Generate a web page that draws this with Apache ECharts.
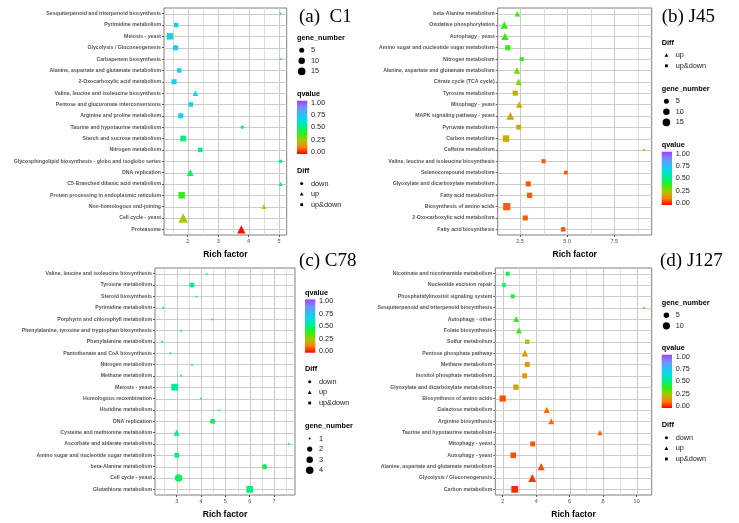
<!DOCTYPE html>
<html lang="en">
<head>
<meta charset="UTF-8">
<title>KEGG enrichment</title>
<script src="https://cdn.jsdelivr.net/npm/echarts@6/dist/echarts.min.js"></script>
<style>html,body{margin:0;padding:0;background:#fff;}</style>
</head>
<body>
<div id="main" style="width:739px;height:523px;"></div>
<script type="text/javascript">

// (a) C1 -- rows listed top to bottom
var catsA = ['Sesquiterpenoid and triterpenoid biosynthesis','Pyrimidine metabolism','Meiosis - yeast','Glycolysis / Gluconeogenesis','Carbapenem biosynthesis','Alanine, aspartate and glutamate metabolism','2-Oxocarboxylic acid metabolism','Valine, leucine and isoleucine biosynthesis','Pentose and glucuronate interconversions','Arginine and proline metabolism','Taurine and hypotaurine metabolism','Starch and sucrose metabolism','Nitrogen metabolism','Glycosphingolipid biosynthesis - globo and isoglobo series','DNA replication','C5-Branched dibasic acid metabolism','Protein processing in endoplasmic reticulum','Non-homologous end-joining','Cell cycle - yeast','Proteasome'];
var richA = [5.05,1.62,1.42,1.60,5.05,1.72,1.55,2.25,2.10,1.77,3.79,1.85,2.41,5.05,2.08,5.05,1.80,4.50,1.85,3.76];
var geneA = [1,5,13,7,1,5,7,4,5,7,2,10,5,2,7,2,13,3,17,12];
var qA = [0.70,0.69,0.67,0.69,0.70,0.68,0.68,0.65,0.66,0.67,0.52,0.50,0.50,0.53,0.45,0.50,0.38,0.25,0.25,0.01];
var diffA = ['up&down','up&down','up&down','down','up&down','up&down','up&down','up','up&down','up&down','down','up&down','up&down','up&down','up','up','up&down','up','up','up'];

// (b) J45
var catsB = ['beta-Alanine metabolism','Oxidative phosphorylation','Autophagy - yeast','Amino sugar and nucleotide sugar metabolism','Nitrogen metabolism','Alanine, aspartate and glutamate metabolism','Citrate cycle (TCA cycle)','Tyrosine metabolism','Mitophagy - yeast','MAPK signaling pathway - yeast','Pyruvate metabolism','Carbon metabolism','Caffeine metabolism','Valine, leucine and isoleucine biosynthesis','Selenocompound metabolism','Glyoxylate and dicarboxylate metabolism','Fatty acid metabolism','Biosynthesis of amino acids','2-Oxocarboxylic acid metabolism','Fatty acid biosynthesis'];
var richB = [2.36,1.67,1.71,1.85,2.59,2.34,2.43,2.25,2.46,1.99,2.43,1.76,9.06,3.75,4.93,2.94,3.01,1.80,2.78,4.79];
var geneB = [4,9,9,7,4,6,6,7,6,10,6,13,1,4,3,7,8,17,7,5];
var qB = [0.36,0.37,0.37,0.37,0.37,0.30,0.30,0.20,0.20,0.20,0.20,0.20,0.16,0.09,0.09,0.09,0.09,0.09,0.09,0.09];
var diffB = ['up','up','up','up&down','up&down','up','up','up&down','up','up','up&down','up&down','up&down','up&down','up&down','up&down','up&down','up&down','up&down','up&down'];

// (c) C78
var catsC = ['Valine, leucine and isoleucine biosynthesis','Tyrosine metabolism','Steroid biosynthesis','Pyrimidine metabolism','Porphyrin and chlorophyll metabolism','Phenylalanine, tyrosine and tryptophan biosynthesis','Phenylalanine metabolism','Pantothenate and CoA biosynthesis','Nitrogen metabolism','Methane metabolism','Meiosis - yeast','Homologous recombination','Histidine metabolism','DNA replication','Cysteine and methionine metabolism','Ascorbate and aldarate metabolism','Amino sugar and nucleotide sugar metabolism','beta-Alanine metabolism','Cell cycle - yeast','Glutathione metabolism'];
var richC = [4.23,3.63,3.81,2.45,4.46,3.18,2.40,2.74,3.63,3.18,2.92,4.00,4.75,4.48,3.00,7.60,3.00,6.61,3.08,6.00];
var geneC = [1,2,1,1,1,1,1,1,1,1,4,1,1,2,2,1,2,2,4,4];
var qC = [0.47,0.52,0.50,0.50,0.50,0.52,0.50,0.50,0.50,0.50,0.52,0.50,0.50,0.46,0.52,0.50,0.50,0.45,0.47,0.50];
var diffC = ['up','down','up','down','up','up','down','down','up','down','up&down','down','up','down','up','down','up&down','down','down','up&down'];

// (d) J127
var catsD = ['Nicotinate and nicotinamide metabolism','Nucleotide excision repair','Phosphatidylinositol signaling system','Sesquiterpenoid and triterpenoid biosynthesis','Autophagy - other','Folate biosynthesis','Sulfur metabolism','Pentose phosphate pathway','Methane metabolism','Inositol phosphate metabolism','Glyoxylate and dicarboxylate metabolism','Biosynthesis of amino acids','Galactose metabolism','Arginine biosynthesis','Taurine and hypotaurine metabolism','Mitophagy - yeast','Autophagy - yeast','Alanine, aspartate and glutamate metabolism','Glycolysis / Gluconeogenesis','Carbon metabolism'];
var richD = [2.30,2.08,2.60,10.43,2.81,2.97,3.47,3.33,3.47,3.31,2.79,2.00,4.63,4.90,7.81,3.79,2.63,4.30,3.77,2.72];
var geneD = [3,3,3,1,4,4,4,5,5,5,6,9,4,4,3,5,7,6,8,11];
var qD = [0.46,0.48,0.42,0.38,0.38,0.37,0.25,0.17,0.16,0.16,0.19,0.08,0.10,0.10,0.10,0.09,0.08,0.07,0.05,0.04];
var diffD = ['up&down','down','up&down','up&down','up','up','up&down','up','up&down','up&down','up&down','up&down','up','up','up','up&down','up&down','up','up','up&down'];

// axis ticks and legend keys
var ticksA = [2,3,4,5], ticksB = [2.5,5,7.5], ticksC = [3,4,5,6,7], ticksD = [2,4,6,8,10];
var geneKeysA = [5,10,15], geneKeysB = [5,10,15], geneKeysC = [1,2,3,4], geneKeysD = [5,10];
var qTickLabels = ['1.00','0.75','0.50','0.25','0.00'];
var qColors = ['#ff0000','#ff8000','#a8c800','#33ee11','#00f080','#00e0d8','#33bbff','#7a8cff','#a040ff'];

var shapeOf = {'down':'circle','up':'triangle','up&down':'rect'};
var shapeScale = {circle:1, triangle:1.2, rect:0.9};
var SANS = '"Liberation Sans", Arial, sans-serif';

var panels = [
    {cats:catsA, rich:richA, gene:geneA, q:qA, diff:diffA, ticks:ticksA, geneKeys:geneKeysA, diffKeys:['down','up','up&down'],
     grid:{left:164, top:8, width:122.7, height:227}, xMin:1.22, xMax:5.25, dec:0, sRange:[2,8],
     title:'(a)  C1', titlePos:[299,17.5], lx:297, blocks:[['gene',37.7],['q',94],['diff',171]]},
    {cats:catsB, rich:richB, gene:geneB, q:qB, diff:diffB, ticks:ticksB, geneKeys:geneKeysB, diffKeys:['up','up&down'],
     grid:{left:497.7, top:8, width:154, height:227}, xMin:1.32, xMax:9.48, dec:1, sRange:[2,8],
     title:'(b) J45', titlePos:[661.7,17.5], lx:661.7, blocks:[['diff',42.7],['gene',88.7],['q',145]]},
    {cats:catsC, rich:richC, gene:geneC, q:qC, diff:diffC, ticks:ticksC, geneKeys:geneKeysC, diffKeys:['down','up','up&down'],
     grid:{left:155, top:268, width:140, height:227}, xMin:2.11, xMax:7.86, dec:0, sRange:[2,7.5],
     title:'(c) C78', titlePos:[299,261], lx:305, blocks:[['q',292.7],['diff',369.3],['gene',426]]},
    {cats:catsD, rich:richD, gene:geneD, q:qD, diff:diffD, ticks:ticksD, geneKeys:geneKeysD, diffKeys:['down','up','up&down'],
     grid:{left:495.3, top:268, width:156.4, height:227}, xMin:1.56, xMax:10.9, dec:0, sRange:[2,7.5],
     title:'(d) J127', titlePos:[660,261], lx:661.7, blocks:[['gene',302.7],['q',348],['diff',425.3]]}
];

function symSize(g, p) {
    var gMin = Math.min.apply(null, p.gene), gMax = Math.max.apply(null, p.gene);
    var t = (g - gMin) / (gMax - gMin);
    return p.sRange[0] + (p.sRange[1] - p.sRange[0]) * Math.sqrt(t);
}

function minorOf(ticks, lo, hi) {
    var step = ticks[1] - ticks[0], out = [];
    for (var v = ticks[0] - step / 2; v < hi; v += step) {
        if (v > lo) out.push(v);
    }
    return out;
}

// gridline renderer: kind 0 = major vertical, 1 = minor vertical, 2 = horizontal (category)
function renderGridLine(params, api) {
    var cs = params.coordSys;
    var kind = api.value(2);
    var pt = api.coord([api.value(0), api.value(1)]);
    var px = Math.round(pt[0]) + 0.5, py = Math.round(pt[1]) + 0.5;
    var shape = kind === 2
        ? {x1:cs.x, y1:py, x2:cs.x + cs.width, y2:py}
        : {x1:px, y1:cs.y, x2:px, y2:cs.y + cs.height};
    return {type:'line', shape:shape, silent:true,
        style:{stroke: kind === 1 ? '#dedede' : '#cbcbcb', lineWidth:1}};
}

var grids = [], xAxes = [], yAxes = [], series = [], lineSeries = [], graphics = [];
var stops = qColors.map(function (c, i) { return {offset: i / (qColors.length - 1), color: c}; });

panels.forEach(function (p, i) {
    grids.push({left:p.grid.left, top:p.grid.top, width:p.grid.width, height:p.grid.height,
        show:true, borderColor:'#7f7f7f', borderWidth:1});
    xAxes.push({
        type:'value', gridIndex:i, min:p.xMin, max:p.xMax,
        name:'Rich factor', nameLocation:'middle', nameGap:15,
        nameTextStyle:{fontFamily:SANS, fontSize:8.5, fontWeight:'bold', color:'#000'},
        axisLine:{show:false}, splitLine:{show:false},
        axisTick:{show:true, length:2, customValues:p.ticks, lineStyle:{color:'#333', width:0.8}},
        axisLabel:{customValues:p.ticks, fontFamily:SANS, fontSize:5.5, color:'#4d4d4d', margin:3,
            formatter:function (v) { return (+v).toFixed(p.dec); }}
    });
    yAxes.push({
        type:'category', gridIndex:i, data:p.cats, inverse:true, boundaryGap:true,
        axisLine:{show:false}, splitLine:{show:false},
        axisTick:{show:true, length:2, alignWithLabel:true, lineStyle:{color:'#333', width:0.8}},
        axisLabel:{interval:0, fontFamily:SANS, fontSize:5.2, fontWeight:'bold', color:'#555', margin:3}
    });

    var lines = [];
    p.ticks.forEach(function (v) { lines.push([v, 0, 0]); });
    minorOf(p.ticks, p.xMin, p.xMax).forEach(function (v) { lines.push([v, 0, 1]); });
    p.cats.forEach(function (c, k) { lines.push([p.xMin, k, 2]); });

    // grid lines go first so the points sit above them
    lineSeries.push({
        type:'custom', xAxisIndex:i, yAxisIndex:i, z:1, silent:true,
        renderItem:renderGridLine, data:lines, clip:false
    });
    series.push({
        type:'scatter', xAxisIndex:i, yAxisIndex:i, z:3,
        data:p.cats.map(function (c, k) {
            var s = shapeOf[p.diff[k]];
            return {value:[p.rich[k], c, p.gene[k], p.q[k]], symbol:s, symbolSize:symSize(p.gene[k], p) * shapeScale[s]};
        }),
        itemStyle:{opacity:1}
    });

    // panel title
    graphics.push({type:'text', x:p.titlePos[0], y:p.titlePos[1],
        style:{text:p.title, fill:'#000', font:'19px "Liberation Serif", "Times New Roman", serif',
            textVerticalAlign:'middle', verticalAlign:'middle'}});

    // legends
    var x0 = p.lx;
    p.blocks.forEach(function (b) {
        var ty = b[1];
        var ttl = b[0] === 'gene' ? 'gene_number' : (b[0] === 'q' ? 'qvalue' : 'Diff');
        graphics.push({type:'text', x:x0, y:ty, style:{text:ttl, fill:'#000',
            font:'bold 7.3px ' + SANS, textVerticalAlign:'middle', verticalAlign:'middle'}});
        if (b[0] === 'gene') {
            p.geneKeys.forEach(function (g, k) {
                var y = ty + 12.5 + k * 10.6;
                graphics.push({type:'circle', shape:{cx:x0 + 4.7, cy:y, r:symSize(g, p) / 2}, style:{fill:'#000'}});
                graphics.push({type:'text', x:x0 + 14, y:y, style:{text:String(g), fill:'#222',
                    font:'7.3px ' + SANS, textVerticalAlign:'middle', verticalAlign:'middle'}});
            });
        } else if (b[0] === 'diff') {
            p.diffKeys.forEach(function (d, k) {
                var y = ty + 12.5 + k * 10.6, cx = x0 + 4.7, s = shapeOf[d];
                if (s === 'circle') graphics.push({type:'circle', shape:{cx:cx, cy:y, r:1.5}, style:{fill:'#000'}});
                else if (s === 'triangle') graphics.push({type:'polygon', shape:{points:[[cx, y - 1.8], [cx - 1.9, y + 1.5], [cx + 1.9, y + 1.5]]}, style:{fill:'#000'}});
                else graphics.push({type:'rect', shape:{x:cx - 1.4, y:y - 1.4, width:2.8, height:2.8}, style:{fill:'#000'}});
                graphics.push({type:'text', x:x0 + 14, y:y, style:{text:d, fill:'#222',
                    font:'7.3px ' + SANS, textVerticalAlign:'middle', verticalAlign:'middle'}});
            });
        } else {
            var top = ty + 6.7, h = 53.3;
            graphics.push({type:'rect', shape:{x:x0, y:top, width:10.3, height:h},
                style:{fill:{type:'linear', x:0, y:1, x2:0, y2:0, colorStops:stops}}});
            qTickLabels.forEach(function (t, k) {
                graphics.push({type:'text', x:x0 + 14, y:top + 1.8 + k * 12.45, style:{text:t, fill:'#222',
                    font:'7.3px ' + SANS, textVerticalAlign:'middle', verticalAlign:'middle'}});
            });
        }
    });
});

var myChart = echarts.init(document.getElementById('main'));
myChart.setOption({
    animation:false,
    backgroundColor:'#fff',
    grid:grids,
    xAxis:xAxes,
    yAxis:yAxes,
    visualMap:{type:'continuous', show:false, seriesIndex:[4,5,6,7], dimension:3, min:0, max:1,
        inRange:{color:qColors}},
    series:lineSeries.concat(series),
    graphic:graphics
});
</script>
</body>
</html>
